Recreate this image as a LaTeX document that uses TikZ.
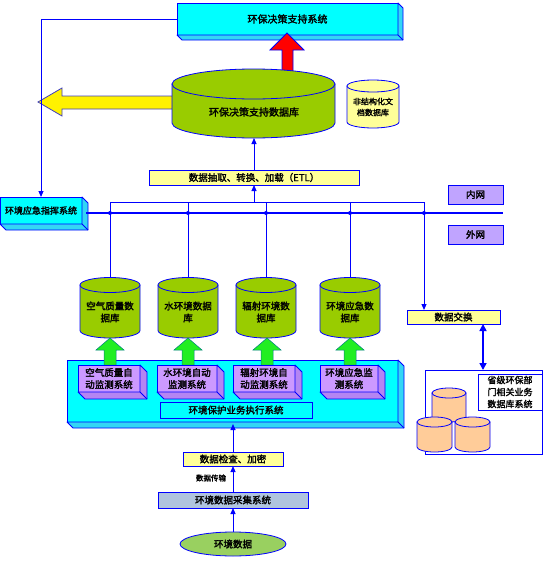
\documentclass[tikz,border=0pt]{standalone}
\usepackage{fontspec}
\setmainfont{Noto Sans CJK SC}[BoldFont={Noto Sans CJK SC},BoldFeatures={FakeBold=2}]
\usetikzlibrary{arrows.meta,shapes.geometric}
\definecolor{lnblue}{HTML}{0000FF}
\definecolor{cyanF}{HTML}{00FFFF}
\definecolor{cyanS}{HTML}{33D6F5}
\definecolor{purpF}{HTML}{CC99FF}
\definecolor{purpS}{HTML}{B585F2}
\definecolor{lyel}{HTML}{FFFF99}
\definecolor{dbgreen}{HTML}{99CC00}
\definecolor{lav}{HTML}{C0A4FF}
\definecolor{peach}{HTML}{FFCC99}
\definecolor{steel}{HTML}{B0C4DE}
\definecolor{srcgreen}{HTML}{99D060}
\definecolor{arrgreen}{HTML}{22EE22}
\newcommand\mysides[3]{%
  \filldraw[fill=#3, draw=lnblue, line width=0.8pt, line join=round]
    (#1.north east) -- ++(#2,#2) -- ([shift={(#2,#2)}]#1.south east)
    -- ([shift={(#2,#2)}]#1.south west) -- (#1.south west) -- (#1.south east) -- cycle;
  \draw[lnblue, line width=0.8pt] (#1.south east) -- ++(#2,#2);}
\newcommand\mycyl[6]{% cx, rx, ytop, ybot, ry, fill
  \filldraw[fill=#6, draw=lnblue, line width=0.8pt]
    ({#1-#2},#3) -- ({#1-#2},#4) arc[start angle=180,end angle=360,x radius=#2pt,y radius=#5pt]
    -- ({#1+#2},#3) -- cycle;
  \filldraw[fill=#6, draw=lnblue, line width=0.8pt] (#1,#3) ellipse[x radius=#2pt, y radius=#5pt];}
\newcommand\greenarrow[1]{%
  \filldraw[fill=arrgreen, draw=green!50!blue, line width=0.5pt]
    ({#1-6},365) -- ({#1-6},350) -- ({#1-14},350) -- (#1,338) -- ({#1+14},350) -- ({#1+6},350) -- ({#1+6},365) -- cycle;}
\begin{document}
\begin{tikzpicture}[x=1pt,y=-1pt,
  font=\bfseries\fontsize{9.5}{12}\selectfont,
  box/.style={draw=lnblue, line width=0.8pt, inner sep=0pt, outer sep=0pt, align=center, anchor=north west},
  conn/.style={draw=lnblue, line width=1pt},
  arr/.style={conn, -{Triangle[length=6pt,width=5pt]}}]
\useasboundingbox (0,0) rectangle (545,565);

% top: decision support system
\node[box, fill=cyanF, minimum width=221pt, minimum height=32pt, font=\bfseries\fontsize{10}{12}\selectfont] (dss) at (177,3) {环保决策支持系统};
\mysides{dss}{5}{cyanS}

% red and yellow block arrows
\filldraw[fill=red, draw=lnblue, line width=0.8pt] (282,74) -- (282,50) -- (270,50) -- (287,33) -- (304,50) -- (293,50) -- (293,74) -- cycle;
\filldraw[fill=yellow, draw=blue!50!gray, line width=0.8pt] (175,96) -- (62,96) -- (62,88) -- (38,102) -- (62,116) -- (62,109) -- (175,109) -- cycle;

% big database
\mycyl{253.5}{81.5}{84}{123}{15}{dbgreen}
\node[font=\bfseries\fontsize{10}{12}\selectfont] (dsdb) at (254,112) {环保决策支持数据库};
\coordinate (dsdbb) at (254,138);

% document db
\mycyl{373}{26}{86}{122}{6}{lyel}
\node[align=center, font=\bfseries\fontsize{8}{11}\selectfont] (docdb) at (373,107) {非结构化文\\档数据库};

% ETL bar
\node[box, fill=lyel, minimum width=210pt, minimum height=15pt] (etl) at (149,170) {数据抽取、转换、加载（ETL）};
\draw[arr] (etl.north) -- (dsdbb);

% emergency command system
\node[box, fill=cyanF, minimum width=82pt, minimum height=27pt, font=\bfseries\fontsize{9}{11}\selectfont] (cmd) at (0,197) {环境应急指挥系统};
\mysides{cmd}{6}{cyanS}
\draw[arr] (dss.west) -| (cmd.north);

% intranet / extranet labels
\node[box, fill=lav, minimum width=55pt, minimum height=19pt] (inner) at (448,185) {内网};
\node[box, fill=lav, minimum width=55pt, minimum height=19pt] (outer) at (448,225) {外网};

% buses
\coordinate (busL) at (86,213);
\coordinate (busR) at (503,213);
\coordinate (b1) at (110,202);
\coordinate (b2) at (188,202);
\coordinate (b3) at (266,202);
\coordinate (b4) at (350,202);
\coordinate (b5) at (424,202);
\coordinate (etlin) at (254,202);
\draw[conn] (b1) -- (b5);
\draw[draw=lnblue, line width=2.6pt] (busL) -- (busR);
\draw[arr] (etlin) -- (etl.south -| etlin);

% databases
\mycyl{110}{30}{285}{330.5}{7.5}{dbgreen}
\mycyl{188}{30}{285}{330.5}{7.5}{dbgreen}
\mycyl{266}{30}{285}{330.5}{7.5}{dbgreen}
\mycyl{350}{30}{285}{330.5}{7.5}{dbgreen}
\coordinate (db1t) at (110,277.5);
\coordinate (db2t) at (188,277.5);
\coordinate (db3t) at (266,277.5);
\coordinate (db4t) at (350,277.5);
\node[align=center] (db1) at (110,312) {空气质量数\\据库};
\node[align=center] (db2) at (188,312) {水环境数据\\库};
\node[align=center] (db3) at (266,312) {辐射环境数\\据库};
\node[align=center] (db4) at (350,312) {环境应急数\\据库};
\foreach \i in {1,2,3,4} {\draw[conn] (b\i) -- (db\i t); \fill[lnblue] (b\i |- busL) circle (2pt);}
\fill[lnblue] (b5 |- busL) circle (2pt);

% data exchange
\node[box, fill=lyel, minimum width=93pt, minimum height=14pt] (xchg) at (407,310) {数据交换};
\draw[arr] (b5) -- (b5 |- xchg.north);

% container of business systems
\node[box, fill=cyanF, minimum width=331pt, minimum height=62pt] (cont) at (67,360) {};
\mysides{cont}{6}{cyanS}
\greenarrow{110}
\greenarrow{188}
\greenarrow{267}
\greenarrow{350}
\node[box, fill=purpF, minimum width=62pt, minimum height=27pt] (mon1) at (78,365) {空气质量自\\动监测系统};
\mysides{mon1}{7}{purpS}
\node[box, fill=purpF, minimum width=60pt, minimum height=27pt] (mon2) at (157,365) {水环境自动\\监测系统};
\mysides{mon2}{7}{purpS}
\node[box, fill=purpF, minimum width=62pt, minimum height=27pt] (mon3) at (233,365) {辐射环境自\\动监测系统};
\mysides{mon3}{7}{purpS}
\node[box, fill=purpF, minimum width=58pt, minimum height=27pt] (mon4) at (320,365) {环境应急监\\测系统};
\mysides{mon4}{7}{purpS}
\node[box, fill=cyanF, minimum width=152pt, minimum height=16pt] (exec) at (160,402) {环境保护业务执行系统};

% provincial systems
\node[box, fill=white, minimum width=117pt, minimum height=84pt] (prov) at (425,370) {};
\node[box, fill=white, minimum width=64pt, minimum height=36pt, font=\bfseries\fontsize{9}{12}\selectfont] (provtxt) at (478,374) {省级环保部\\门相关业务\\数据库系统};
\mycyl{449}{17}{393}{417}{5}{peach}
\mycyl{434.5}{17.5}{422}{447}{5}{peach}
\mycyl{472.5}{17.5}{422}{447}{5}{peach}
\coordinate (xd) at (483,324);
\draw[conn, line width=1.6pt, {Triangle[length=7pt,width=7pt]}-{Triangle[length=7pt,width=7pt]}] (xd) -- (xd |- prov.north);

% collection chain
\node[box, fill=lyel, minimum width=100pt, minimum height=14pt] (chk) at (183,452) {数据检查、加密};
\coordinate (contb) at (233,424);
\draw[arr] (chk.north -| contb) -- (contb);
\node[font=\bfseries\fontsize{7.5}{9}\selectfont] (lbl) at (211,478) {数据传输};
\node[box, fill=steel, minimum width=150pt, minimum height=16pt] (coll) at (158,492) {环境数据采集系统};
\draw[arr] (coll.north -| contb) -- (chk.south -| contb);
\node[draw=lnblue, line width=0.8pt, fill=srcgreen, ellipse, minimum width=106pt, minimum height=24pt, inner sep=0pt] (src) at (233,544) {环境数据};
\draw[arr] (src.north) -- (coll.south -| src.north);
\end{tikzpicture}
\end{document}
